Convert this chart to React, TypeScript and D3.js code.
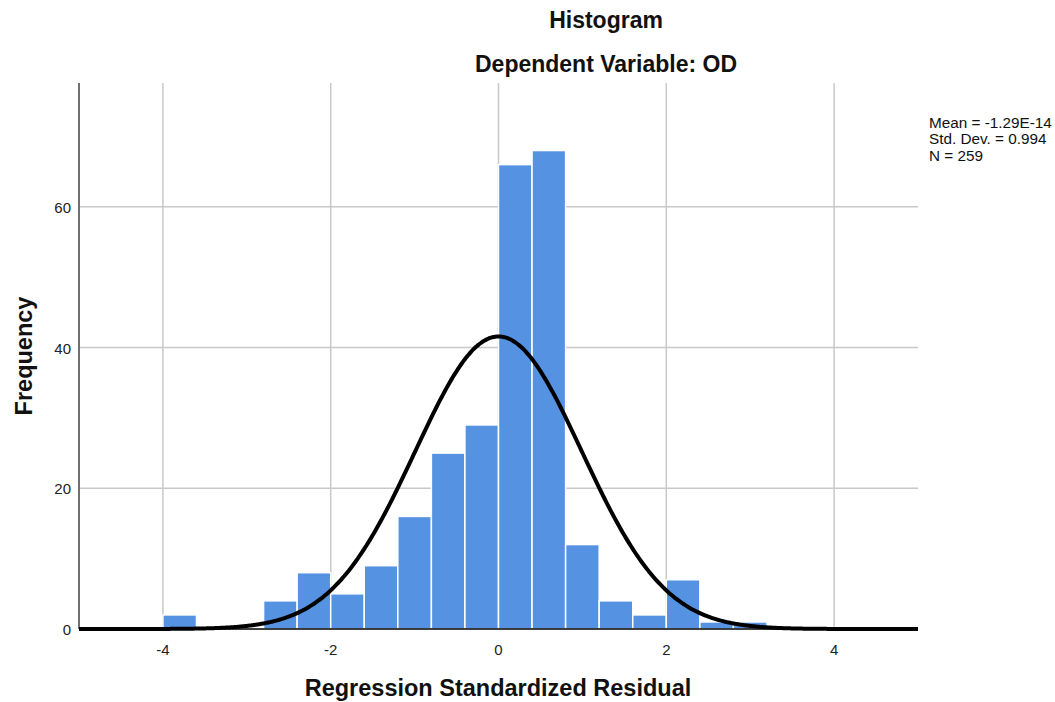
import React, { useEffect, useRef } from "react";
import * as d3 from "d3";

const binStarts = [-4.0, -3.6, -3.2, -2.8, -2.4, -2.0, -1.6, -1.2, -0.8, -0.4, 0.0, 0.4, 0.8, 1.2, 1.6, 2.0, 2.4, 2.8];
const binCounts = [2, 0, 0, 4, 8, 5, 9, 16, 25, 29, 66, 68, 12, 4, 2, 7, 1, 1];
const BIN_WIDTH = 0.4;
const xTicks = [-4, -2, 0, 2, 4];
const yTicks = [0, 20, 40, 60];
const MEAN = -1.29e-14;
const SD = 0.994;
const N = 259;
const statLines = ["Mean = -1.29E-14", "Std. Dev. = 0.994", "N = 259"];

const W = 1055;
const H = 702;
const PLOT = { LEFT: 79, RIGHT: 918, TOP: 83, BOTTOM: 629 };
const FONT = "'Liberation Sans', Arial, sans-serif";

export default function App() {
  const ref = useRef<SVGSVGElement>(null);

  useEffect(() => {
    const svg = d3.select(ref.current);
    svg.selectAll("*").remove();

    const x = d3.scaleLinear().domain([-5, 5]).range([PLOT.LEFT, PLOT.RIGHT]);
    const y = d3.scaleLinear().domain([0, 77.6]).range([PLOT.BOTTOM, PLOT.TOP]);

    // grid
    svg
      .append("g")
      .selectAll("line")
      .data(yTicks.filter((t) => t > 0))
      .enter()
      .append("line")
      .attr("x1", PLOT.LEFT)
      .attr("x2", PLOT.RIGHT)
      .attr("y1", (d) => y(d))
      .attr("y2", (d) => y(d))
      .attr("stroke", "#c8c8c8")
      .attr("stroke-width", 1.5);
    svg
      .append("g")
      .selectAll("line")
      .data(xTicks)
      .enter()
      .append("line")
      .attr("x1", (d) => x(d))
      .attr("x2", (d) => x(d))
      .attr("y1", PLOT.TOP)
      .attr("y2", PLOT.BOTTOM)
      .attr("stroke", "#c8c8c8")
      .attr("stroke-width", 1.5);

    // bars
    const data = binStarts.map((s, i) => ({ s, c: binCounts[i] })).filter((d) => d.c > 0);
    svg
      .append("g")
      .selectAll("rect")
      .data(data)
      .enter()
      .append("rect")
      .attr("x", (d) => x(d.s))
      .attr("y", (d) => y(d.c))
      .attr("width", (d) => x(d.s + BIN_WIDTH) - x(d.s))
      .attr("height", (d) => y(0) - y(d.c))
      .attr("fill", "#5592e1")
      .attr("stroke", "#ffffff")
      .attr("stroke-width", 1.5);

    // axis lines
    svg
      .append("line")
      .attr("x1", PLOT.LEFT)
      .attr("x2", PLOT.LEFT)
      .attr("y1", PLOT.TOP)
      .attr("y2", PLOT.BOTTOM)
      .attr("stroke", "#707070")
      .attr("stroke-width", 2);
    svg
      .append("line")
      .attr("x1", PLOT.LEFT)
      .attr("x2", PLOT.RIGHT)
      .attr("y1", PLOT.BOTTOM)
      .attr("y2", PLOT.BOTTOM)
      .attr("stroke", "#000")
      .attr("stroke-width", 1.5);

    // normal curve from the stats shown at the right
    const scale = N * BIN_WIDTH;
    const pts = d3.range(-5, 5.001, 0.02).map((v) => [
      v,
      (scale / (SD * Math.sqrt(2 * Math.PI))) * Math.exp(-0.5 * ((v - MEAN) / SD) ** 2),
    ]);
    const line = d3
      .line<number[]>()
      .x((d) => x(d[0]))
      .y((d) => y(d[1]))
      .curve(d3.curveMonotoneX);
    svg
      .append("path")
      .attr("d", line(pts))
      .attr("fill", "none")
      .attr("stroke", "#000")
      .attr("stroke-width", 4);

    // tick labels
    svg
      .append("g")
      .selectAll("text")
      .data(yTicks)
      .enter()
      .append("text")
      .attr("x", 71)
      .attr("y", (d) => y(d) + 6)
      .attr("text-anchor", "end")
      .attr("font-family", FONT)
      .attr("font-size", 15)
      .attr("fill", "#222")
      .text((d) => d);
    svg
      .append("g")
      .selectAll("text")
      .data(xTicks)
      .enter()
      .append("text")
      .attr("x", (d) => x(d))
      .attr("y", 655)
      .attr("text-anchor", "middle")
      .attr("font-family", FONT)
      .attr("font-size", 15)
      .attr("fill", "#222")
      .text((d) => d);

    // titles
    const bold = (t: string, tx: number, ty: number, size: number) =>
      svg
        .append("text")
        .attr("x", tx)
        .attr("y", ty)
        .attr("text-anchor", "middle")
        .attr("font-family", FONT)
        .attr("font-weight", "bold")
        .attr("font-size", size)
        .attr("fill", "#111")
        .text(t);
    bold("Histogram", 606, 28, 23);
    bold("Dependent Variable: OD", 606, 72, 23);
    bold("Regression Standardized Residual", 498, 696, 23.5);
    bold("Frequency", 0, 0, 23.5).attr("transform", `translate(32,356) rotate(-90)`);

    // stats box
    svg
      .append("g")
      .selectAll("text")
      .data(statLines)
      .enter()
      .append("text")
      .attr("x", 929)
      .attr("y", (d, i) => 128 + i * 16.3)
      .attr("font-family", FONT)
      .attr("font-size", 15.3)
      .attr("fill", "#111")
      .text((d) => d);
  }, []);

  return (
    <svg ref={ref} width={W} height={H} style={{ position: "absolute", left: 0, top: 0, background: "#fff" }} />
  );
}
